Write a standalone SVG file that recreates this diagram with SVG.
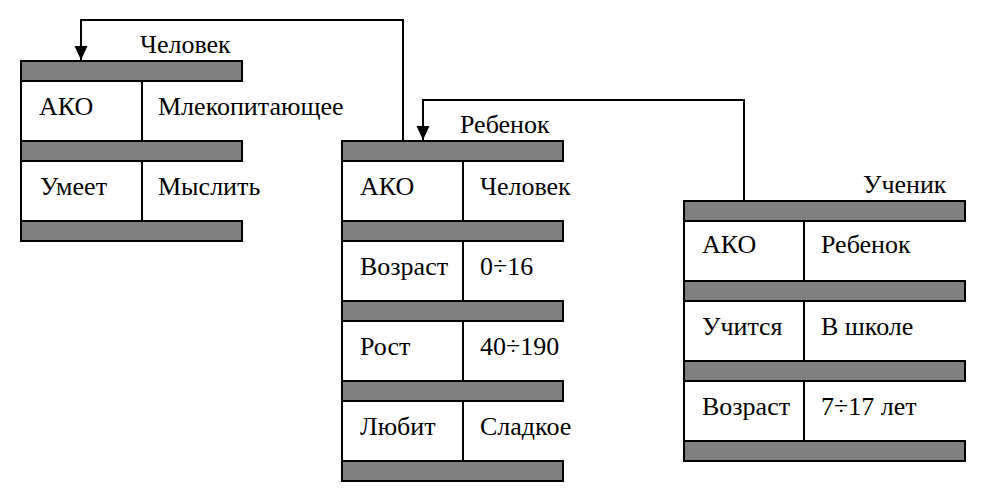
<svg xmlns="http://www.w3.org/2000/svg" width="988" height="499" viewBox="0 0 988 499">
<style>
.bar{fill:#808080;stroke:#000;stroke-width:2}
.ln{stroke:#000;stroke-width:2;fill:none}
.t{font-family:'Liberation Serif','Times New Roman',serif;font-size:26px;fill:#000}
</style>
<defs>
<marker id="arr" markerUnits="userSpaceOnUse" markerWidth="14" markerHeight="14" refX="14" refY="6.5" orient="auto">
<path d="M0,0 L14,6.5 L0,13 z" fill="#000"/>
</marker>
</defs>
<rect width="988" height="499" fill="#fff"/>
<g id="connectors">
<path class="ln" d="M403,141 V20 H81 V60" marker-end="url(#arr)"/>
<path class="ln" d="M744,201 V100 H423 V140" marker-end="url(#arr)"/>
</g>
<g id="chelovek" class="t">
<text x="140" y="53">Человек</text>
<rect class="bar" x="21" y="61" width="221" height="20"/>
<rect class="bar" x="21" y="141" width="221" height="20"/>
<rect class="bar" x="21" y="221" width="221" height="20"/>
<path class="ln" d="M21,81 V141 M142,81 V141 M21,161 V221 M142,161 V221"/>
<text x="39" y="115">АКО</text>
<text x="158" y="115">Млекопитающее</text>
<text x="40" y="195">Умеет</text>
<text x="158" y="195">Мыслить</text>
</g>
<g id="rebenok" class="t">
<text x="460" y="133">Ребенок</text>
<rect class="bar" x="342" y="141" width="221" height="20"/>
<rect class="bar" x="342" y="221" width="221" height="20"/>
<rect class="bar" x="342" y="301" width="221" height="20"/>
<rect class="bar" x="342" y="381" width="221" height="20"/>
<rect class="bar" x="342" y="461" width="221" height="20"/>
<path class="ln" d="M342,161 V221 M463,161 V221 M342,241 V301 M463,241 V301 M342,321 V381 M463,321 V381 M342,401 V461 M463,401 V461"/>
<text x="360" y="195">АКО</text>
<text x="480" y="195">Человек</text>
<text x="360" y="275">Возраст</text>
<text x="480" y="275">0÷16</text>
<text x="360" y="355">Рост</text>
<text x="480" y="355">40÷190</text>
<text x="360" y="435">Любит</text>
<text x="480" y="435">Сладкое</text>
</g>
<g id="uchenik" class="t">
<text x="863" y="193">Ученик</text>
<rect class="bar" x="684" y="201" width="281" height="20"/>
<rect class="bar" x="684" y="281" width="281" height="20"/>
<rect class="bar" x="684" y="361" width="281" height="20"/>
<rect class="bar" x="684" y="441" width="281" height="20"/>
<path class="ln" d="M684,221 V281 M804,221 V281 M684,301 V361 M804,301 V361 M684,381 V441 M804,381 V441"/>
<text x="702" y="253">АКО</text>
<text x="821" y="253">Ребенок</text>
<text x="702" y="335">Учится</text>
<text x="821" y="335">В школе</text>
<text x="702" y="415">Возраст</text>
<text x="821" y="415">7÷17 лет</text>
</g>
</svg>
